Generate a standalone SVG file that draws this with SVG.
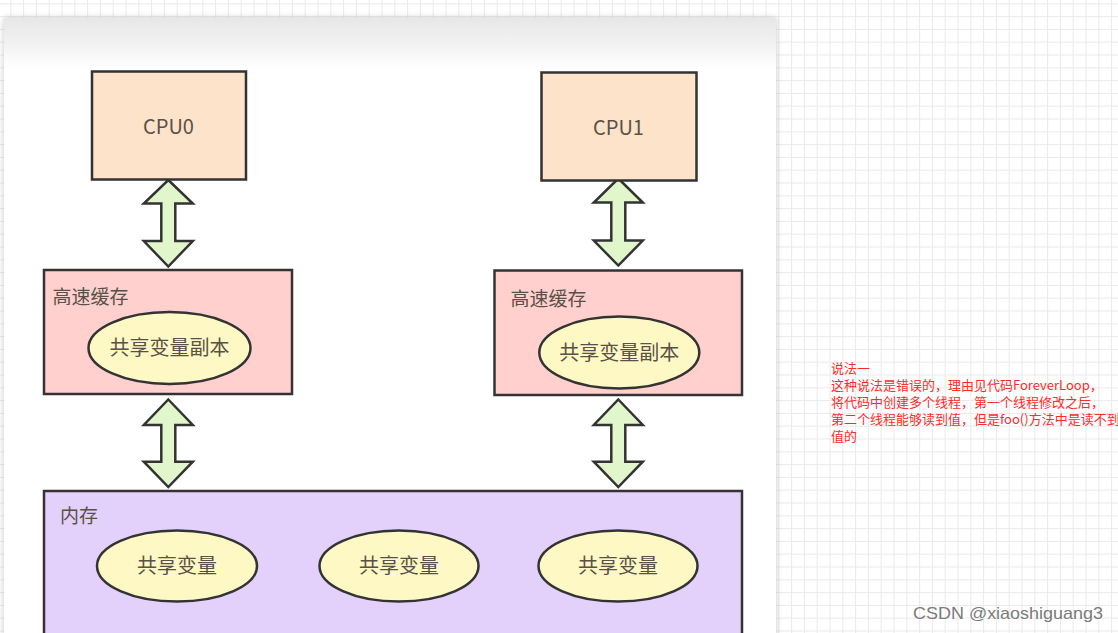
<svg xmlns="http://www.w3.org/2000/svg" width="1118" height="633" viewBox="0 0 1118 633">
  <defs>
    <pattern id="grid" patternUnits="userSpaceOnUse" x="10.3" y="3.3" width="12.8" height="12.8">
      <path d="M0 0.5 H12.8 M0.5 0 V12.8" stroke="#e9e9e9" stroke-width="1" fill="none"/>
    </pattern>
    <linearGradient id="panelTop" x1="0" y1="18" x2="0" y2="70" gradientUnits="userSpaceOnUse">
      <stop offset="0" stop-color="#e6e6e6"/>
      <stop offset="1" stop-color="#ffffff"/>
    </linearGradient>
    <filter id="shadow" x="-5%" y="-5%" width="110%" height="110%">
      <feGaussianBlur stdDeviation="3"/>
    </filter>
    <style>
      .box { stroke: #333; stroke-width: 2.5; }
      .cpu { fill: #fde3c9; }
      .cache { fill: #ffd0cd; }
      .mem { fill: #e3d1fc; }
      .ell { fill: #fdf8c4; stroke: #333; stroke-width: 2.5; }
      .arrow { fill: #e1f6cb; stroke: #333; stroke-width: 2.5; stroke-linejoin: miter; }
      .lbl { font-family: "Noto Sans CJK SC", "Noto Sans", sans-serif; fill: #5a5048; }
      .note { font-family: "Noto Sans CJK SC", sans-serif; font-size: 13px; fill: #ff2a2a; }
    </style>
  </defs>

  <!-- background grid -->
  <rect x="0" y="0" width="1118" height="633" fill="#ffffff"/>
  <rect x="0" y="0" width="1118" height="633" fill="url(#grid)"/>

  <!-- screenshot panel -->
  <rect x="4" y="18" width="772" height="640" fill="#9a9a9a" opacity="0.55" filter="url(#shadow)"/>
  <rect x="4" y="18" width="772" height="640" fill="#ffffff"/>
  <rect x="4" y="18" width="772" height="52" fill="url(#panelTop)"/>

  <!-- connectors -->
  <g id="connectors">
    <path class="arrow" d="M168.3 180 L192.8 203.5 L175.3 203.5 L175.3 241 L192.8 241 L168.3 266.5 L143.8 241 L161.3 241 L161.3 203.5 L143.8 203.5 Z"/>
    <path class="arrow" d="M618.3 178.5 L642.8 202.5 L625.3 202.5 L625.3 240.5 L642.8 240.5 L618.3 265.5 L593.8 240.5 L611.3 240.5 L611.3 202.5 L593.8 202.5 Z"/>
    <path class="arrow" d="M168.3 399.5 L192.8 425 L175.3 425 L175.3 461.7 L192.8 461.7 L168.3 487 L143.8 461.7 L161.3 461.7 L161.3 425 L143.8 425 Z"/>
    <path class="arrow" d="M618.3 399.5 L642.8 425 L625.3 425 L625.3 461.7 L642.8 461.7 L618.3 487 L593.8 461.7 L611.3 461.7 L611.3 425 L593.8 425 Z"/>
  </g>

  <g id="cpu0">
    <rect class="box cpu" x="92" y="71.5" width="154" height="108"/>
    <text class="lbl" x="168.5" y="134" font-size="20" text-anchor="middle">CPU0</text>
  </g>

  <g id="cpu1">
    <rect class="box cpu" x="541.5" y="72.5" width="155" height="108"/>
    <text class="lbl" x="618.5" y="135" font-size="20" text-anchor="middle">CPU1</text>
  </g>

  <g id="cache0">
    <rect class="box cache" x="44" y="270" width="248" height="124"/>
    <text class="lbl" x="52.5" y="304" font-size="19">高速缓存</text>
    <ellipse class="ell" cx="169.5" cy="348" rx="81" ry="36"/>
    <text class="lbl" x="169.5" y="355" font-size="20" text-anchor="middle">共享变量副本</text>
  </g>

  <g id="cache1">
    <rect class="box cache" x="494.5" y="270.5" width="247.5" height="124.5"/>
    <text class="lbl" x="510.5" y="306" font-size="19">高速缓存</text>
    <ellipse class="ell" cx="619.3" cy="352.5" rx="80" ry="36"/>
    <text class="lbl" x="619.3" y="359.5" font-size="20" text-anchor="middle">共享变量副本</text>
  </g>

  <g id="memory">
    <rect class="box mem" x="44" y="491" width="698" height="160"/>
    <text class="lbl" x="60" y="523" font-size="19">内存</text>
    <g id="var0">
      <ellipse class="ell" cx="177" cy="566" rx="80" ry="35.5"/>
      <text class="lbl" x="177" y="573" font-size="20" text-anchor="middle">共享变量</text>
    </g>
    <g id="var1">
      <ellipse class="ell" cx="399" cy="566" rx="79.5" ry="35.5"/>
      <text class="lbl" x="399" y="573" font-size="20" text-anchor="middle">共享变量</text>
    </g>
    <g id="var2">
      <ellipse class="ell" cx="618" cy="566" rx="79.5" ry="35.5"/>
      <text class="lbl" x="618" y="573" font-size="20" text-anchor="middle">共享变量</text>
    </g>
  </g>

  <g id="note">
    <text class="note" x="831" y="373">说法一</text>
    <text class="note" x="831" y="390">这种说法是错误的，理由见代码ForeverLoop，</text>
    <text class="note" x="831" y="407">将代码中创建多个线程，第一个线程修改之后，</text>
    <text class="note" x="831" y="424">第二个线程能够读到值，但是foo()方法中是读不到</text>
    <text class="note" x="831" y="441">值的</text>
  </g>

  <text x="913" y="619" font-family="Liberation Sans, Arial, sans-serif" font-size="17" fill="#7a7a7a" textLength="190" lengthAdjust="spacingAndGlyphs">CSDN @xiaoshiguang3</text>
</svg>
